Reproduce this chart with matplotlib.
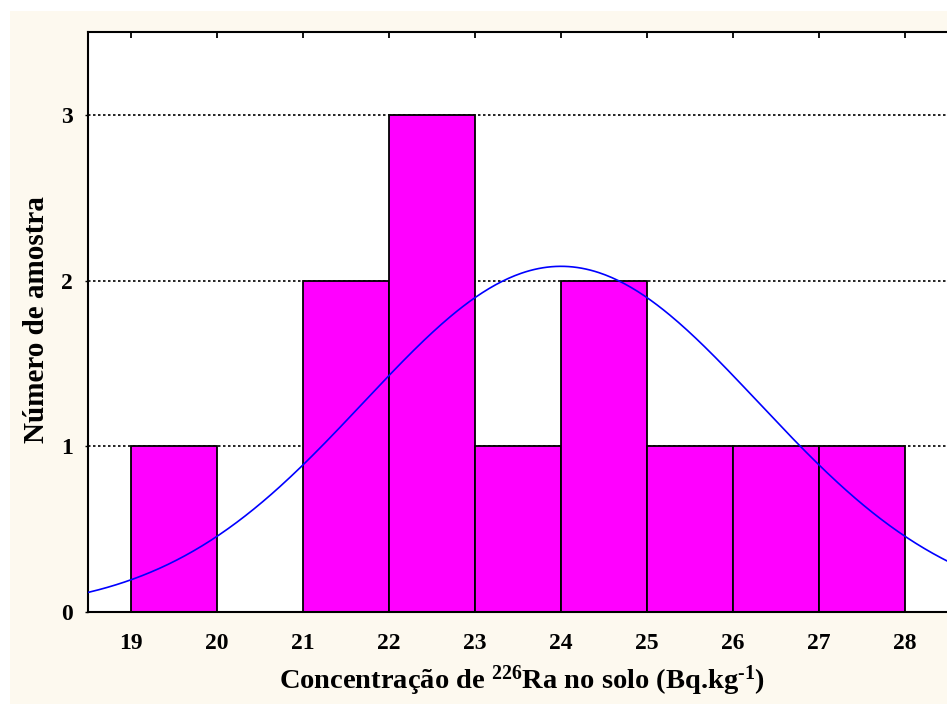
import numpy as np
import matplotlib
matplotlib.use('Agg')
import matplotlib.pyplot as plt
from matplotlib.patches import Rectangle

# Histogram data (bin edges and counts)
bin_edges = [19, 20, 21, 22, 23, 24, 25, 26, 27, 28]
counts = [1, 0, 2, 3, 1, 2, 1, 1, 1]

# Fitted normal curve parameters
n_samples = 12
mean_ra = 24.0
sd_ra = 2.295

xticks = [19, 20, 21, 22, 23, 24, 25, 26, 27, 28]
yticks = [0, 1, 2, 3]

plt.rcParams['font.family'] = 'Liberation Serif'
plt.rcParams['font.weight'] = 'bold'
plt.rcParams['mathtext.fontset'] = 'custom'
plt.rcParams['mathtext.rm'] = 'Liberation Serif:bold'
plt.rcParams['mathtext.it'] = 'Liberation Serif:bold'
plt.rcParams['mathtext.bf'] = 'Liberation Serif:bold'

fig = plt.figure(figsize=(9.47, 7.04), dpi=100)
fig.patch.set_facecolor('white')
# cream background panel
fig.patches.append(Rectangle((10/947, 0), 1, (704-11)/704, transform=fig.transFigure,
                             facecolor='#fdf9ef', edgecolor='none', zorder=-10))

ax = fig.add_axes([88/947, 92/704, 860/947, 580/704])
ax.set_facecolor('white')

widths = np.diff(bin_edges)
ax.bar(bin_edges[:-1], counts, width=widths, align='edge', color='#ff00ff',
       edgecolor='black', linewidth=1.3, zorder=2)

xs = np.linspace(18.5, 28.5, 400)
ys = n_samples * 1.0 / (sd_ra * np.sqrt(2*np.pi)) * np.exp(-(xs - mean_ra)**2 / (2*sd_ra**2))
ax.plot(xs, ys, color='#0000ff', linewidth=1.2, zorder=3)

ax.set_xlim(18.5, 28.5)
ax.set_ylim(0, 3.5)
ax.set_xticks(xticks)
ax.set_yticks(yticks)
ax.yaxis.grid(True, linestyle=(0, (1.5, 1.5)), color='black', linewidth=1.2, zorder=1)
ax.set_axisbelow(True)

for s in ['left', 'top', 'bottom']:
    ax.spines[s].set_linewidth(1.5)
ax.spines['right'].set_visible(False)

ax.tick_params(axis='x', direction='in', length=4, width=1.3, top=True, bottom=False,
               labelsize=17, pad=15)
ax.tick_params(axis='y', direction='out', length=2, width=1.0, labelsize=17, pad=9)
for lab in ax.get_xticklabels() + ax.get_yticklabels():
    lab.set_fontweight('bold')

fig.text(522/947, 1 - 681/704, r'Concentração de $^{226}$Ra no solo (Bq.kg$^{\text{-1}}$)',
         ha='center', va='center', fontsize=20.5, fontweight='bold')
fig.text(37/947, 1 - 320/704, 'Número de amostra', rotation=90,
         ha='center', va='center', fontsize=21, fontweight='bold')

fig.savefig('out.png', dpi=100, facecolor=fig.get_facecolor())
